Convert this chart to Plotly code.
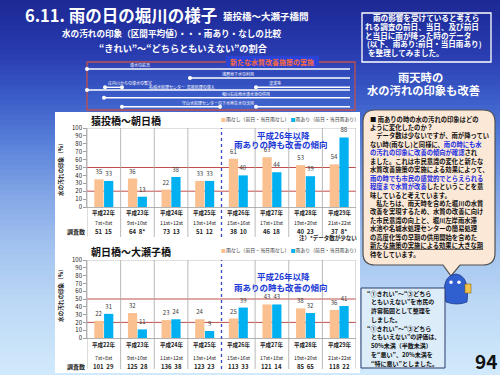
import plotly.graph_objects as go

# ---------------- data ----------------
years = ["平成22年", "平成23年", "平成24年", "平成25年", "平成26年", "平成27年", "平成28年", "平成29年"]
surveys = ["7st+8st", "9st+10st", "11st+12st", "13st+14st", "15st+16st", "17st+18st", "19st+20st", "21st+22st"]
series_names = ["雨なし（前日・当日雨なし）", "雨あり（前日・当日雨あり）"]

top_title = "猿投橋～朝日橋"
top_no_rain = [35, 36, 22, 33, 61, 63, 53, 54]
top_rain = [33, 13, 38, 33, 40, 44, 39, 88]
top_counts = ["51  15", "64  8*", "73  13", "51  12", "38  10", "46  18", "40  23", "37  8*"]

bot_title = "朝日橋～大瀬子橋"
bot_no_rain = [22, 32, 23, 24, 25, 43, 38, 36]
bot_rain = [31, 11, 24, 9, 39, 43, 32, 41]
bot_counts = ["101  29", "125  28", "136  38", "123  23", "113  33", "121  14", "85  65", "118  22"]

ref_lines = [20, 50]

W, H = 500, 375
FONT = "Noto Sans CJK JP"
C_NO = "#FAC090"
C_RAIN = "#00B0F0"


def X(px):
    return px / W


def Y(py):
    return 1 - py / H


shapes = []
annotations = []


def txt(x, y, s, size, color="white", bold=True, anchor="left", xref="paper", yref="paper",
        px=True, angle=0):
    annotations.append(dict(
        x=X(x) if (px and xref == "paper") else x,
        y=Y(y) if (px and yref == "paper") else y,
        xref=xref, yref=yref, text=("<b>%s</b>" % s) if bold else s,
        showarrow=False, xanchor=anchor, yanchor="middle", textangle=angle, borderpad=0,
        font=dict(size=size, color=color, family=FONT)))


# ---------------- background gradient ----------------
stops = [(0, (0x1c, 0x28, 0x94)), (50, (0x28, 0x3a, 0xae)), (100, (0x3c, 0x5e, 0xca)),
         (150, (0x5e, 0x86, 0xdb)), (200, (0x86, 0xa9, 0xe7)), (250, (0xa4, 0xc4, 0xef)),
         (300, (0xbb, 0xd7, 0xf5)), (375, (0xd2, 0xea, 0xfc))]


def grad(y):
    for (y0, c0), (y1, c1) in zip(stops[:-1], stops[1:]):
        if y0 <= y <= y1:
            t = (y - y0) / (y1 - y0)
            return "rgb(%d,%d,%d)" % tuple(round(a + (b - a) * t) for a, b in zip(c0, c1))
    return "rgb(210,234,252)"


step = 5
for yy in range(0, H, step):
    shapes.append(dict(type="rect", xref="paper", yref="paper", x0=0, x1=1, y0=Y(yy + step + 0.5),
                       y1=Y(yy), fillcolor=grad(yy + step / 2), line=dict(width=0), layer="below"))

# white chart panel
shapes.append(dict(type="rect", xref="paper", yref="paper", x0=X(55), x1=X(360), y0=Y(373), y1=Y(112),
                   fillcolor="white", line=dict(width=0), layer="below"))

# ---------------- titles ----------------
txt(24, 15, "6.11. 雨の日の堀川の様子", 16.5)
txt(222, 16, "猿投橋～大瀬子橋間", 9.5)
txt(172, 33, "水の汚れの印象（区間平均値）・・・雨あり・なしの比較", 8.6, anchor="center")
txt(183, 48, "“きれい”～“どちらともいえない”の割合", 9.2, anchor="center")

# ---------------- timeline box ----------------
shapes.append(dict(type="rect", xref="paper", yref="paper", x0=X(87), x1=X(355), y0=Y(110), y1=Y(62),
                   line=dict(color="#c0504d", width=1.3), fillcolor="rgba(0,0,0,0)"))
shapes.append(dict(type="rect", xref="paper", yref="paper", x0=X(226), x1=X(319), y0=Y(67), y1=Y(56),
                   line=dict(width=0), fillcolor="#2a44d8"))
txt(272, 61.5, "新たな水質改善施策の実施", 7.0, color="#ff6a3a", anchor="center")

tl_rows = [
    (69, [(87, 350)], [87], [(140, 65, "導水の拡充")]),
    (78, [(190, 350)], [190], [(238, 74, "浅層地下水の利用")]),
    (87.3, [(105, 122), (256, 350)], [105, 122, 256],
     [(130, 83, "庄内川からの導水の暫定"), (275, 83, "浚渫等")]),
    (90, [(87, 350)], [87], [(182, 86.5, "名城水処理センター  高度処理の導入")]),
    (97.7, [(104, 350)], [104], [(246, 94, "堀川右岸雨水滞水池の供用")]),
    (106.7, [(122, 220), (256, 350)], [122, 220, 256],
     [(218, 102.5, "守山水処理センターの下水再生水の活用")]),
]
for yy, segs, dots, labels in tl_rows:
    for a, b in segs:
        shapes.append(dict(type="line", xref="paper", yref="paper", x0=X(a), x1=X(b), y0=Y(yy), y1=Y(yy),
                           line=dict(color="white", width=1.4)))
    for d in dots:
        shapes.append(dict(type="circle", xref="paper", yref="paper", x0=X(d - 2), x1=X(d + 2),
                           y0=Y(yy + 2), y1=Y(yy - 2), fillcolor="white", line=dict(width=0)))
    for lx, ly, s in labels:
        txt(lx, ly, s, 4, anchor="center", bold=False)

# ---------------- charts ----------------
fig = go.Figure()

charts = [
    dict(xa="x", ya="y", no=top_no_rain, rain=top_rain, counts=top_counts, title=top_title,
         ytop=128, ybot=207, title_y=120, ylab=[213, 222, 231], sep_bot=237, ytitle_y=168),
    dict(xa="x2", ya="y2", no=bot_no_rain, rain=bot_rain, counts=bot_counts, title=bot_title,
         ytop=260, ybot=338, title_y=251, ylab=[345, 357, 366], sep_bot=369, ytitle_y=294),
]

xs = list(range(len(years)))
for k, c in enumerate(charts):
    for vals, name, col in [(c["no"], series_names[0], C_NO), (c["rain"], series_names[1], C_RAIN)]:
        fig.add_trace(go.Bar(x=xs, y=vals, name=name, marker=dict(color=col, line=dict(width=0)),
                             xaxis=c["xa"], yaxis=c["ya"], showlegend=False, hoverinfo="skip",
                             text=vals, textposition="outside", cliponaxis=False,
                             textfont=dict(size=6, color="#404040", family=FONT)))
    xr = c["xa"]
    yr = c["ya"]
    for v in ref_lines:
        shapes.append(dict(type="line", xref=xr + " domain", yref=yr, x0=0, x1=1, y0=v, y1=v,
                           line=dict(color="#c0504d", width=1), layer="below"))
    shapes.append(dict(type="line", xref=xr + " domain", yref=yr, x0=0, x1=1, y0=100, y1=100,
                       line=dict(color="#b0b0b0", width=0.8), layer="below"))
    for i in range(len(years) + 1):
        xv = i - 0.5
        if i == 4:
            continue
        shapes.append(dict(type="line", xref=xr, yref="paper", x0=xv, x1=xv, y0=Y(c["sep_bot"]),
                           y1=Y(c["ytop"]), line=dict(color="#a8a8a8", width=0.8), layer="below"))
    shapes.append(dict(type="line", xref=xr, yref="paper", x0=3.5, x1=3.5, y0=Y(c["sep_bot"]),
                       y1=Y(c["ytop"]), line=dict(color="#3a48c0", width=1.3, dash="dot")))
    for i in xs:
        txt(i, Y(c["ylab"][0]), years[i], 5.5, color="#222", anchor="center", xref=xr, px=False)
        txt(i, Y(c["ylab"][1]), surveys[i], 5.2, color="#222", bold=False, anchor="center", xref=xr, px=False)
        txt(i, Y(c["ylab"][2]), c["counts"][i], 6, color="#222", anchor="center", xref=xr, px=False)
    txt(76, c["ylab"][2], "調査数", 6, color="#222", anchor="center")
    txt(90, c["title_y"], c["title"], 10, color="#111")
    leg = ('<span style="color:%s">■</span>%s <span style="color:%s">■</span>%s'
           % (C_NO, series_names[0], C_RAIN, series_names[1]))
    txt(220, c["title_y"] - 1, leg, 4.9, color="#333", bold=False)
    txt(61, c["ytitle_y"], "水の汚れの印象（%）", 5.6, color="#222", anchor="center", angle=-90)
    txt(283, c["ytop"] + (7 if k == 0 else 16), "平成26年以降", 8.5, color="#1c3ad6", anchor="center")
    txt(281, c["ytop"] + (15.5 if k == 0 else 27), "雨ありの時も改善の傾向", 8.5, color="#1c3ad6", anchor="center")

txt(328, 238, "注）*データ数が少ない", 5.5, color="#222", anchor="center")

axis_common = dict(showgrid=False, zeroline=False)
fig.update_layout(
    xaxis=dict(domain=[X(87), X(356)], range=[-0.5, 7.5], showticklabels=False, ticks="",
               showline=True, linecolor="#a0a0a0", linewidth=0.8, anchor="y", **axis_common),
    yaxis=dict(domain=[Y(207), Y(128)], range=[0, 100], dtick=10, ticks="outside", ticklen=3,
               tickcolor="#a0a0a0", showline=True, linecolor="#a0a0a0", linewidth=0.8,
               tickfont=dict(size=6, color="#222", family=FONT), anchor="x", **axis_common),
    xaxis2=dict(domain=[X(87), X(356)], range=[-0.5, 7.5], showticklabels=False, ticks="",
                showline=True, linecolor="#a0a0a0", linewidth=0.8, anchor="y2", **axis_common),
    yaxis2=dict(domain=[Y(338), Y(260)], range=[0, 100], dtick=10, ticks="outside", ticklen=3,
                tickcolor="#a0a0a0", showline=True, linecolor="#a0a0a0", linewidth=0.8,
                tickfont=dict(size=6, color="#222", family=FONT), anchor="x2", **axis_common),
    barmode="group", bargap=0.42, bargroupgap=0.05,
)

# ---------------- right side ----------------
shapes.append(dict(type="rect", xref="paper", yref="paper", x0=X(362), x1=X(491), y0=Y(62), y1=Y(13),
                   line=dict(color="white", width=1.3), fillcolor="rgba(0,0,0,0)"))
box_lines = [(372, "雨の影響を受けていると考えら"), (364, "れる調査の前日、当日、及び前日"),
             (364, "と当日に雨が降った時のデータ"), (366, "(以下、雨あり:前日・当日雨あり)"),
             (367, "を整理してみました。")]
for i, (lx, s) in enumerate(box_lines):
    txt(lx, 17 + 9 * i, s, 7.6)

txt(420, 77, "雨天時の", 11.3, anchor="center")
txt(423, 90, "水の汚れの印象も改善", 11.3, anchor="center")

# speech bubble
L, R, T, B, r = 363, 495, 110, 265, 12
pts = [("M", L + r, T), ("L", R - r, T), ("Q", R, T, R, T + r), ("L", R, B - r), ("Q", R, B, R - r, B),
       ("L", 460, B), ("L", 451, 276), ("L", 443, B), ("L", L + r, B), ("Q", L, B, L, B - r),
       ("L", L, T + r), ("Q", L, T, L + r, T)]
path = ""
for p in pts:
    coords = p[1:]
    path += p[0] + " " + " ".join("%.5f,%.5f" % (X(coords[j]), Y(coords[j + 1]))
                                  for j in range(0, len(coords), 2)) + " "
path += "Z"
shapes.append(dict(type="path", xref="paper", yref="paper", path=path, fillcolor="#fce8d6",
                   line=dict(color="#505050", width=1.2)))

BL = "#1a2ee0"
bub = [
    "■ 雨ありの時の水の汚れの印象はどの",
    "ように変化したのか？",
    "　データ数は少ないですが、雨が降ってい",
    'ない時(雨なし)と同様に、<span style="color:%s">雨の時にも水</span>' % BL,
    '<span style="color:%s">の汚れの印象に改善の傾向が確認</span>され' % BL,
    "ました。これは市民意識の変化と新たな",
    "水質改善施策の実施による効果によって、",
    '<span style="color:%s">雨の時でも市民の感覚的でとらえられる</span>' % BL,
    '<span style="color:%s">程度まで水質が改善</span>したということを意' % BL,
    "味していると考えています。",
    "　私たちは、雨天時を含めた堀川の水質",
    "改善を実現するため、水質の改善に向け",
    "た市民意識の向上と、堀川左岸雨水滞",
    "水池や名城水処理センターの簡易処理",
    "の高度化等の早期の供用開始を含めた",
    '<span style="text-decoration:underline">新たな施策の実施による効果に大きな期</span>',
    "待をしています。",
]
for i, s in enumerate(bub):
    txt(369, 119 + 8.45 * i, s, 6.3, color="#111")

# mascot
shapes.append(dict(type="path", xref="paper", yref="paper",
                   path="M %f,%f Q %f,%f %f,%f Q %f,%f %f,%f Q %f,%f %f,%f Z" % (
                       X(446), Y(302), X(440), Y(276), X(456), Y(274), X(470), Y(276), X(467), Y(302),
                       X(457), Y(306), X(446), Y(302)),
                   fillcolor="#3060d0", line=dict(color="#1d3b8a", width=0.8)))
for ex in (451, 459):
    shapes.append(dict(type="circle", xref="paper", yref="paper", x0=X(ex - 1.8), x1=X(ex + 1.8),
                       y0=Y(284), y1=Y(280.5), fillcolor="white", line=dict(width=0)))
shapes.append(dict(type="rect", xref="paper", yref="paper", x0=X(465), x1=X(471), y0=Y(293), y1=Y(284),
                   fillcolor="#f2c14e", line=dict(color="#8a6a10", width=0.6)))

# note box
shapes.append(dict(type="rect", xref="paper", yref="paper", x0=X(361), x1=X(445), y0=Y(368), y1=Y(288),
                   fillcolor="#dcecf8", line=dict(color="#2a3a6a", width=1)))
note = [(366, "“①きれい”～“③どちら"), (370, "ともいえない”を市民の"), (370, "許容範囲として整理を"),
        (370, "しました。"), (366, "“①きれい”～“③どちら"), (370, "ともいえない”の評価は、"),
        (370, "50%未満（半数未満）"), (370, "を“悪い”、20%未満を"), (370, "“特に悪い”としました。")]
for i, (lx, s) in enumerate(note):
    txt(lx, 293 + 8.75 * i, s, 6.0, color="#111")

txt(486, 360, "94", 19, color="#111", anchor="center")

fig.update_layout(
    width=W, height=H, margin=dict(l=0, r=0, t=0, b=0, autoexpand=False),
    paper_bgcolor="#1c2894", plot_bgcolor="rgba(0,0,0,0)",
    shapes=shapes, annotations=annotations, showlegend=False, hovermode=False,
    font=dict(family=FONT),
)

fig.write_html("out.html", config={"displayModeBar": False, "staticPlot": True},
               post_script="document.body.style.margin='0';")
